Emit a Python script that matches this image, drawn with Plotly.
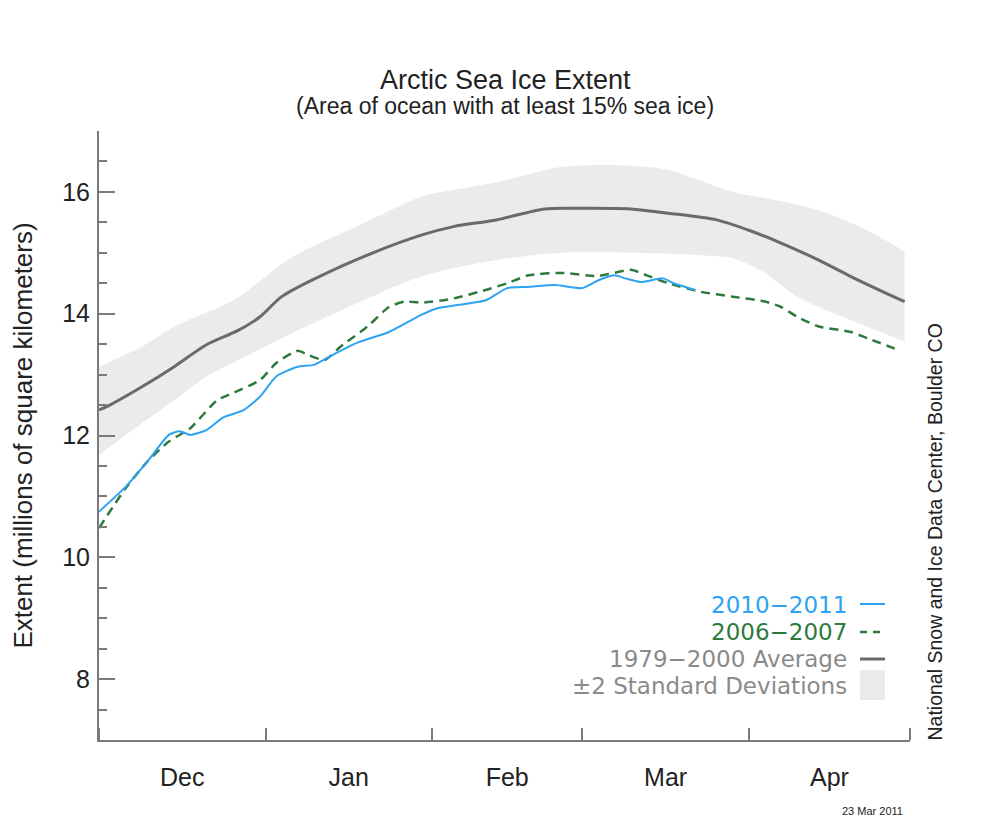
import plotly.graph_objects as go

# ---------------- data ----------------
avg_dates = ["2010-12-01", "2010-12-03", "2010-12-09", "2010-12-15", "2010-12-21", "2010-12-27",
             "2010-12-31", "2011-01-04", "2011-01-11", "2011-01-21", "2011-01-30", "2011-02-05",
             "2011-02-13", "2011-02-22", "2011-03-01", "2011-03-10", "2011-03-17", "2011-03-26",
             "2011-04-01", "2011-04-07", "2011-04-14", "2011-04-20", "2011-04-26", "2011-04-30"]
avg_vals = [12.42, 12.50, 12.80, 13.13, 13.49, 13.73, 13.95, 14.28, 14.61, 15.00, 15.29, 15.43,
            15.54, 15.72, 15.73, 15.72, 15.65, 15.54, 15.37, 15.16, 14.88, 14.61, 14.36, 14.20]

upper_dates = ["2010-12-01", "2010-12-09", "2010-12-15", "2010-12-26", "2011-01-06", "2011-01-18",
               "2011-01-30", "2011-02-05", "2011-02-13", "2011-02-25", "2011-03-07", "2011-03-17",
               "2011-03-29", "2011-04-04", "2011-04-14", "2011-04-23", "2011-04-30"]
upper_vals = [13.13, 13.46, 13.79, 14.22, 14.93, 15.43, 15.92, 16.03, 16.16, 16.41, 16.44, 16.36,
              16.00, 15.90, 15.70, 15.37, 15.02]

lower_dates = ["2010-12-01", "2010-12-09", "2010-12-15", "2010-12-21", "2010-12-27", "2011-01-06",
               "2011-01-18", "2011-01-30", "2011-02-13", "2011-02-25", "2011-03-10", "2011-03-23",
               "2011-03-29", "2011-04-04", "2011-04-10", "2011-04-17", "2011-04-23", "2011-04-30"]
lower_vals = [11.68, 12.20, 12.58, 12.97, 13.24, 13.68, 14.17, 14.61, 14.88, 15.00, 15.00, 14.96,
              14.91, 14.67, 14.28, 14.00, 13.79, 13.54]

y2010_dates = ["2010-12-01", "2010-12-06", "2010-12-10", "2010-12-14", "2010-12-16", "2010-12-18",
               "2010-12-21", "2010-12-24", "2010-12-28", "2010-12-31", "2011-01-03", "2011-01-07",
               "2011-01-10", "2011-01-13", "2011-01-18", "2011-01-24", "2011-01-30", "2011-02-02",
               "2011-02-08", "2011-02-11", "2011-02-15", "2011-02-19", "2011-02-24", "2011-03-01",
               "2011-03-04", "2011-03-07", "2011-03-09", "2011-03-12", "2011-03-16", "2011-03-18",
               "2011-03-22"]
y2010_vals = [10.75, 11.16, 11.57, 12.01, 12.07, 12.01, 12.09, 12.29, 12.42, 12.64, 12.97, 13.13,
              13.16, 13.30, 13.52, 13.70, 13.98, 14.09, 14.17, 14.22, 14.42, 14.44, 14.47, 14.42,
              14.55, 14.63, 14.58, 14.52, 14.58, 14.50, 14.39]

y2006_dates = ["2010-12-01", "2010-12-06", "2010-12-10", "2010-12-14", "2010-12-18", "2010-12-23",
               "2010-12-26", "2010-12-31", "2011-01-03", "2011-01-07", "2011-01-09", "2011-01-12",
               "2011-01-15", "2011-01-20", "2011-01-24", "2011-01-27", "2011-01-30", "2011-02-05",
               "2011-02-11", "2011-02-15", "2011-02-19", "2011-02-25", "2011-03-04", "2011-03-10",
               "2011-03-13", "2011-03-17", "2011-03-23", "2011-03-29", "2011-04-04", "2011-04-07",
               "2011-04-10", "2011-04-14", "2011-04-20", "2011-04-23", "2011-04-29"]
y2006_vals = [10.48, 11.14, 11.57, 11.90, 12.12, 12.58, 12.70, 12.91, 13.19, 13.39, 13.32, 13.24,
              13.46, 13.79, 14.11, 14.20, 14.18, 14.25, 14.39, 14.50, 14.63, 14.67, 14.62, 14.72,
              14.63, 14.50, 14.36, 14.28, 14.20, 14.11, 13.95, 13.79, 13.70, 13.60, 13.40]

legend_labels = ["2010\u22122011", "2006\u22122007", "1979\u22122000 Average", "\u00b12 Standard Deviations"]

# ---------------- styling ----------------
FONT = "Liberation Sans, Arial, Helvetica, sans-serif"
LEG_FONT = "DejaVu Sans, Liberation Sans, sans-serif"
C_BLUE = "#2ea3f2"
C_GREEN = "#2e7a3e"
C_AVG = "#6a6a6a"
C_BAND = "#ebebeb"
C_AXIS = "#7a7a7a"
C_LEGTXT = "#8a8a8a"

# page offset (browser body margin) and plot area in screen pixels
OFF = 8
SW, SH = 1003, 820
X0, X1, Y0, Y1 = 99, 910, 131, 740
W, H = SW - OFF, SH - OFF


def px(x):
    return (x - X0) / (X1 - X0)


def py(y):
    return (Y1 - y) / (Y1 - Y0)


fig = go.Figure()

# +-2 SD band
fig.add_trace(go.Scatter(x=upper_dates, y=upper_vals, mode="lines",
                         line=dict(width=0, color=C_BAND, shape="spline", smoothing=0.8),
                         hoverinfo="skip", showlegend=False))
fig.add_trace(go.Scatter(x=lower_dates, y=lower_vals, mode="lines", fill="tonexty", fillcolor=C_BAND,
                         line=dict(width=0, color=C_BAND, shape="spline", smoothing=0.8),
                         hoverinfo="skip", showlegend=False))

fig.add_trace(go.Scatter(x=avg_dates, y=avg_vals, mode="lines",
                         line=dict(color=C_AVG, width=3, shape="spline", smoothing=0.8),
                         showlegend=False))
fig.add_trace(go.Scatter(x=y2006_dates, y=y2006_vals, mode="lines",
                         line=dict(color=C_GREEN, width=2.5, dash="9px,6px", shape="spline", smoothing=0.6),
                         showlegend=False))
fig.add_trace(go.Scatter(x=y2010_dates, y=y2010_vals, mode="lines",
                         line=dict(color=C_BLUE, width=2, shape="spline", smoothing=0.6),
                         showlegend=False))

annotations = [
    dict(text="Arctic Sea Ice Extent", x=px(505), y=py(80), font=dict(size=27, color="#222")),
    dict(text="(Area of ocean with at least 15% sea ice)", x=px(505), y=py(106),
         font=dict(size=23, color="#222")),
    dict(text="National Snow and Ice Data Center, Boulder CO", x=px(934), y=py(743),
         textangle=-90, yanchor="bottom", font=dict(size=19.5, color="#222")),
    dict(text="23 Mar 2011", x=px(905), y=py(811), xanchor="right", font=dict(size=11, color="#222")),
]
leg_colors = [C_BLUE, C_GREEN, C_LEGTXT, C_LEGTXT]
leg_y = [605, 632, 659, 686]
for lab, col, yy in zip(legend_labels, leg_colors, leg_y):
    annotations.append(dict(text=lab, x=px(848), y=py(yy), xanchor="right", borderpad=0,
                            font=dict(size=23, color=col, family=LEG_FONT)))
for a in annotations:
    a.setdefault("xref", "paper")
    a.setdefault("yref", "paper")
    a.setdefault("showarrow", False)
    a.setdefault("yanchor", "middle")
    a.setdefault("xanchor", "center")

shapes = [
    dict(type="line", x0=px(860), x1=px(885), y0=py(604), y1=py(604), line=dict(color=C_BLUE, width=2)),
    dict(type="line", x0=px(860), x1=px(885), y0=py(632), y1=py(632),
         line=dict(color=C_GREEN, width=2.5, dash="7px,6px")),
    dict(type="line", x0=px(860), x1=px(885), y0=py(659), y1=py(659), line=dict(color=C_AVG, width=3)),
    dict(type="rect", x0=px(860), x1=px(885), y0=py(670), y1=py(700), fillcolor=C_BAND, line=dict(width=0)),
]
for s in shapes:
    s["xref"] = "paper"
    s["yref"] = "paper"

fig.update_layout(
    width=W, height=H,
    margin=dict(l=X0 - OFF, r=SW - X1, t=Y0 - OFF, b=SH - Y1, autoexpand=False),
    paper_bgcolor="white", plot_bgcolor="white",
    font=dict(family=FONT, color="#222"),
    showlegend=False,
    annotations=annotations,
    shapes=shapes,
    xaxis=dict(type="date", range=["2010-12-01", "2011-05-01"], dtick="M1", tick0="2010-12-01",
               tickformat="%b", ticklabelmode="period", ticks="inside", ticklen=12, tickwidth=2,
               tickcolor=C_AXIS, showline=True, linecolor=C_AXIS, linewidth=2, showgrid=False,
               zeroline=False, tickfont=dict(size=25, color="#222"), ticklabelstandoff=14,
               automargin=False),
    yaxis=dict(range=[7, 17], tick0=8, dtick=2, ticks="inside", ticklen=16, tickwidth=2,
               tickcolor=C_AXIS, showline=True, linecolor=C_AXIS, linewidth=2, showgrid=False,
               zeroline=False, tickfont=dict(size=25, color="#222"), ticklabelstandoff=2,
               minor=dict(dtick=0.5, ticks="inside", ticklen=8, tickwidth=2, tickcolor=C_AXIS,
                          showgrid=False),
               title=dict(text="Extent (millions of square kilometers)", font=dict(size=26, color="#222"),
                          standoff=30),
               automargin=False),
)

fig.write_html("out.html")
